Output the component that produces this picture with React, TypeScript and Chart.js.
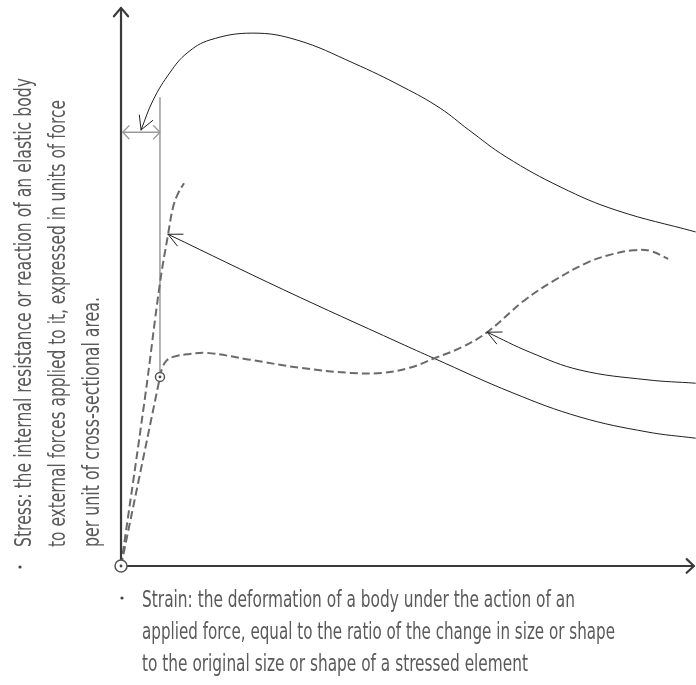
import React, { useEffect, useRef } from "react";
import { Chart, registerables } from "chart.js";

Chart.register(...registerables);

// ---- Data (strain / stress in arbitrary units) ----
const axisStrainX = [0, 100];
const axisStressX = [0, 0];
const axisStrainY = [0, 0];
const axisStressY = [0, 97.4];

// brittle / elastic curve
const elasticStrain = [0, 4.2, 6.8, 8.2, 9.1, 10.0, 11.0];
const elasticStress = [0, 29.5, 49.4, 57.8, 62.7, 65.1, 66.8];

// ductile curve: linear part to the yield point, then plastic part
const linearStrain = [0, 6.8];
const linearStress = [0, 33.0];
const ductileStrain = [6.8, 7.2, 7.9, 9.1, 12.0, 15.0, 22.5, 31.2, 40.0, 45.5, 50.4, 54.8, 59.5, 63.9, 70.2, 75.4, 81.3, 85.3, 89.4, 92.3, 95.5];
const ductileStress = [33.0, 34.6, 35.8, 36.5, 37.0, 37.2, 36.0, 34.6, 33.7, 33.7, 34.6, 36.3, 38.2, 40.8, 46.2, 49.7, 52.9, 54.3, 55.1, 55.0, 53.6];

// yield marker and offset dimension
const yieldLineStrain = [6.8, 6.8];
const yieldLineStress = [33.0, 81.8];
const offsetStrain = [0.3, 6.8];
const offsetStress = [75.7, 75.7];

// pointer arrows (from the right edge towards the feature)
const arrowTopStrain = [100.3, 86.4, 76.8, 67.2, 60.7, 55.7, 49.2, 40.5, 30.7, 23.0, 15.5, 11.5, 8.6, 5.6, 3.5];
const arrowTopStress = [58.3, 62.1, 66.1, 71.4, 76.1, 79.9, 83.6, 87.8, 91.8, 93.0, 91.8, 89.5, 86.2, 81.3, 76.1];
const arrowLowStrain = [100.3, 91.8, 80.1, 68.4, 54.5, 48.7, 28.4, 8.2];
const arrowLowStress = [22.3, 23.4, 26.0, 30.2, 36.3, 38.9, 48.2, 57.9];
const arrowMidStrain = [100.3, 91.8, 80.1, 71.4, 63.9];
const arrowMidStress = [31.9, 32.5, 34.2, 37.3, 40.8];

// markers (origin and yield point)
const markerStrain = [0, 6.8];
const markerStress = [0, 33.0];

// texts
const stressLabel = [
  "Stress: the internal resistance or reaction of an elastic body",
  "to external forces applied to it, expressed in units of force",
  "per unit of cross-sectional area.",
];
const strainLabel = [
  "Strain: the deformation of a body under the action of an",
  "applied force, equal to the ratio of the change in size or shape",
  "to the original size or shape of a stressed element",
];

const zip = (xs: number[], ys: number[]) => xs.map((x, i) => ({ x, y: ys[i] }));

const W = 696;
const H = 685;
const FONT = '"Liberation Sans Narrow", "DejaVu Sans Condensed", "Liberation Sans", sans-serif';

function chevron(ctx: CanvasRenderingContext2D, tx: number, ty: number, fx: number, fy: number, len: number, ang: number) {
  const dx = fx - tx;
  const dy = fy - ty;
  const d = Math.hypot(dx, dy) || 1;
  const ux = dx / d;
  const uy = dy / d;
  ctx.beginPath();
  for (const s of [-1, 1]) {
    const c = Math.cos(s * ang);
    const sn = Math.sin(s * ang);
    const bx = ux * c - uy * sn;
    const by = ux * sn + uy * c;
    ctx.moveTo(tx + bx * len, ty + by * len);
    ctx.lineTo(tx, ty);
  }
  ctx.stroke();
}

const arrowPlugin = {
  id: "arrowHeads",
  afterDatasetsDraw(chart: any) {
    const ctx = chart.ctx as CanvasRenderingContext2D;
    chart.data.datasets.forEach((ds: any, i: number) => {
      if (!ds.arrow) return;
      const pts = chart.getDatasetMeta(i).data;
      if (pts.length < 2) return;
      ctx.save();
      ctx.strokeStyle = ds.arrowColor || ds.borderColor;
      ctx.lineWidth = ds.arrowWidth || ds.borderWidth;
      ctx.lineCap = "round";
      ctx.setLineDash([]);
      const ends = ds.arrow === "both" ? ["start", "end"] : [ds.arrow];
      for (const e of ends) {
        const tip = e === "end" ? pts[pts.length - 1] : pts[0];
        const prev = e === "end" ? pts[pts.length - 2] : pts[1];
        chevron(ctx, tip.x, tip.y, prev.x, prev.y, ds.arrowLen || 14, ds.arrowAngle || 0.5);
      }
      ctx.restore();
    });
  },
};

function fitted(ctx: CanvasRenderingContext2D, text: string, x: number, y: number, width: number, rotate: boolean) {
  ctx.save();
  ctx.translate(x, y);
  if (rotate) ctx.rotate(-Math.PI / 2);
  const m = ctx.measureText(text).width || 1;
  ctx.scale(width / m, 1);
  ctx.fillText(text, 0, 0);
  ctx.restore();
}

const textPlugin = {
  id: "labels",
  afterDraw(chart: any) {
    const ctx = chart.ctx as CanvasRenderingContext2D;
    ctx.save();
    ctx.fillStyle = "#5a5a5a";
    ctx.font = `23px ${FONT}`;
    ctx.textBaseline = "alphabetic";
    ctx.textAlign = "left";
    // vertical (stress) label
    const yl = [
      { b: 31, s: 547, e: 78 },
      { b: 65, s: 547, e: 100 },
      { b: 99, s: 547, e: 297 },
    ];
    stressLabel.forEach((t, i) => fitted(ctx, t, yl[i].b, yl[i].s, yl[i].s - yl[i].e, true));
    // horizontal (strain) label
    const xl = [
      { b: 607, s: 142, e: 575 },
      { b: 639, s: 142, e: 615 },
      { b: 671, s: 142, e: 528 },
    ];
    strainLabel.forEach((t, i) => fitted(ctx, t, xl[i].s, xl[i].b, xl[i].e - xl[i].s, false));
    // bullets
    ctx.fillStyle = "#444";
    for (const [bx, by] of [[20, 567], [122, 598]]) {
      ctx.beginPath();
      ctx.arc(bx, by, 1.6, 0, Math.PI * 2);
      ctx.fill();
    }
    ctx.restore();
  },
};

export default function App() {
  const ref = useRef<HTMLCanvasElement | null>(null);

  useEffect(() => {
    if (!ref.current) return;
    const dashed = { borderDash: [8, 4], borderColor: "#6a6a6a", borderWidth: 2, pointRadius: 0, showLine: true };
    const chart = new Chart(ref.current, {
      type: "scatter",
      data: {
        datasets: [
          {
            label: "dots",
            data: zip(markerStrain, markerStress),
            pointRadius: 1.4,
            pointBackgroundColor: "#444",
            pointBorderWidth: 0,
            showLine: false,
          },
          {
            label: "markers",
            data: zip(markerStrain, markerStress),
            pointRadius: [6, 4.5],
            pointBackgroundColor: "#fff",
            pointBorderColor: "#555",
            pointBorderWidth: 1.5,
            showLine: false,
          },
          {
            label: "Stress axis",
            data: zip(axisStressX, axisStressY),
            borderColor: "#3a3a3a",
            borderWidth: 2.2,
            pointRadius: 0,
            showLine: true,
            arrow: "end",
            arrowLen: 11,
            arrowAngle: 0.7,
          } as any,
          {
            label: "Strain axis",
            data: zip(axisStrainX, axisStrainY),
            borderColor: "#3a3a3a",
            borderWidth: 2.2,
            pointRadius: 0,
            showLine: true,
            arrow: "end",
            arrowLen: 10,
            arrowAngle: 0.75,
          } as any,
          { label: "Elastic curve", data: zip(elasticStrain, elasticStress), tension: 0.4, ...dashed } as any,
          { label: "Linear part", data: zip(linearStrain, linearStress), tension: 0, ...dashed } as any,
          { label: "Ductile curve", data: zip(ductileStrain, ductileStress), tension: 0.4, ...dashed } as any,
          {
            label: "Yield line",
            data: zip(yieldLineStrain, yieldLineStress),
            borderColor: "#8a8a8a",
            borderWidth: 1.3,
            pointRadius: 0,
            showLine: true,
          },
          {
            label: "Offset",
            data: zip(offsetStrain, offsetStress),
            borderColor: "#9a9a9a",
            borderWidth: 1.3,
            pointRadius: 0,
            showLine: true,
            arrow: "both",
            arrowLen: 9,
            arrowAngle: 0.8,
          } as any,
          {
            label: "Pointer top",
            data: zip(arrowTopStrain, arrowTopStress),
            borderColor: "#1e1e1e",
            borderWidth: 1,
            pointRadius: 0,
            tension: 0.4,
            showLine: true,
            arrow: "end",
            arrowLen: 15,
            arrowAngle: 0.5,
          } as any,
          {
            label: "Pointer low",
            data: zip(arrowLowStrain, arrowLowStress),
            borderColor: "#1e1e1e",
            borderWidth: 1,
            pointRadius: 0,
            tension: 0.4,
            showLine: true,
            arrow: "end",
            arrowLen: 15,
            arrowAngle: 0.45,
          } as any,
          {
            label: "Pointer mid",
            data: zip(arrowMidStrain, arrowMidStress),
            borderColor: "#1e1e1e",
            borderWidth: 1,
            pointRadius: 0,
            tension: 0.4,
            showLine: true,
            arrow: "end",
            arrowLen: 15,
            arrowAngle: 0.45,
          } as any,
        ],
      },
      options: {
        responsive: false,
        animation: false,
        events: [],
        layout: { padding: 0, autoPadding: false },
        plugins: { legend: { display: false }, tooltip: { enabled: false }, title: { display: false } },
        scales: {
          x: { type: "linear", min: -21.12, max: 100.35, display: false },
          y: { type: "linear", min: -20.77, max: 98.78, display: false },
        },
      },
      plugins: [arrowPlugin, textPlugin],
    });
    return () => chart.destroy();
  }, []);

  return (
    <div style={{ position: "fixed", left: 0, top: 0, width: W, height: H, background: "#fff" }}>
      <canvas ref={ref} width={W} height={H} style={{ width: W, height: H, display: "block" }} />
    </div>
  );
}
